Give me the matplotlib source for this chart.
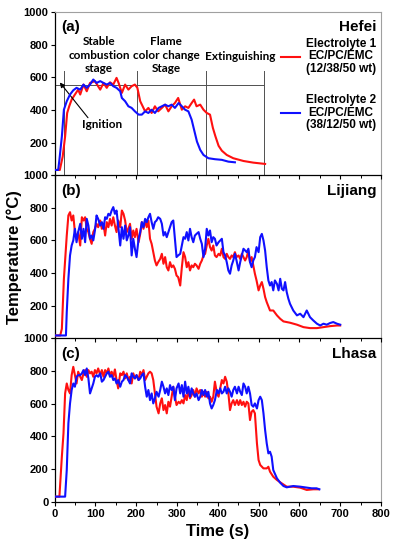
import matplotlib
matplotlib.use("Agg")
import matplotlib.pyplot as plt
from matplotlib.ticker import MultipleLocator

# ---------------- data ----------------
# Panel (a) Hefei
a_red_t = [0, 13, 20, 26, 31, 36, 42, 50, 58, 63, 71, 79, 87, 99, 112, 120, 128, 136, 144, 152, 157, 165,
           173, 181, 189, 197, 203, 210, 216, 222, 230, 238, 246, 254, 263, 271, 279, 287, 295, 303, 312,
           320, 328, 336, 342, 348, 357, 365, 373, 381, 388, 394, 402, 410, 422, 438, 463, 487, 516]
a_red_v = [32, 32, 114, 237, 381, 422, 463, 494, 524, 494, 555, 514, 565, 576, 524, 565, 535, 569, 555, 596,
           565, 504, 555, 524, 545, 555, 535, 453, 422, 391, 412, 381, 422, 391, 412, 432, 391, 422, 442, 473,
           401, 422, 412, 442, 463, 422, 432, 401, 381, 371, 290, 240, 180, 150, 124, 104, 87, 77, 69]
a_blue_t = [0, 9, 12, 18, 23, 30, 38, 46, 54, 63, 71, 79, 87, 95, 103, 112, 120, 128, 136, 144, 152, 161,
            165, 173, 181, 189, 197, 206, 214, 222, 230, 238, 246, 255, 263, 271, 279, 287, 295, 304, 312,
            320, 328, 336, 342, 349, 357, 365, 377, 393, 410, 426, 442]
a_blue_v = [32, 32, 94, 237, 401, 453, 494, 520, 535, 524, 555, 535, 555, 586, 565, 576, 565, 555, 565, 545,
            535, 514, 473, 453, 422, 412, 391, 371, 371, 391, 381, 401, 381, 412, 422, 432, 422, 432, 412, 442,
            422, 401, 391, 340, 278, 206, 155, 124, 104, 98, 94, 83, 79]

# Panel (b) Lijiang
b_red_t = [0, 14, 18, 23, 30, 34, 38, 42, 46, 50, 54, 58, 63, 67, 71, 75, 79, 83, 87, 91, 95, 99, 103, 107,
           112, 116, 120, 124, 128, 132, 136, 140, 144, 148, 152, 156, 161, 165, 169, 173, 177, 181, 185, 189,
           193, 197, 201, 206, 210, 214, 218, 222, 226, 230, 234, 238, 242, 246, 250, 254, 259, 263, 267, 271,
           275, 279, 283, 287, 291, 295, 299, 303, 308, 312, 316, 320, 324, 328, 332, 336, 340, 344, 348, 353,
           357, 361, 365, 369, 373, 377, 381, 385, 389, 393, 397, 402, 406, 410, 414, 418, 422, 426, 430, 434,
           438, 442, 446, 451, 455, 459, 463, 467, 471, 475, 479, 483, 487, 491, 495, 500, 504, 508, 512, 516,
           520, 528, 536, 545, 553, 561, 577, 594, 610, 626, 643, 659, 675, 692, 700]
b_red_v = [18, 18, 59, 365, 630, 753, 773, 722, 753, 651, 610, 651, 569, 742, 722, 742, 671, 651, 610, 579,
           651, 671, 702, 681, 722, 671, 702, 630, 712, 681, 732, 691, 742, 691, 651, 722, 681, 783, 763, 722,
           651, 671, 702, 610, 661, 620, 671, 589, 640, 712, 671, 722, 681, 722, 610, 579, 528, 477, 447, 467,
           487, 518, 457, 498, 436, 416, 467, 436, 447, 426, 385, 375, 324, 436, 528, 498, 436, 467, 416, 447,
           436, 457, 447, 426, 457, 477, 508, 518, 569, 610, 559, 538, 569, 508, 498, 518, 508, 549, 498, 487,
           518, 498, 487, 508, 498, 528, 498, 508, 487, 518, 498, 477, 498, 538, 467, 498, 447, 396, 355, 294,
           324, 345, 304, 253, 222, 171, 171, 141, 120, 104, 96, 84, 69, 63, 63, 69, 75, 79, 79]
b_blue_t = [0, 28, 30, 34, 38, 42, 46, 50, 54, 58, 63, 67, 71, 75, 79, 83, 87, 91, 95, 99, 103, 107, 112,
            116, 120, 124, 128, 132, 136, 140, 144, 148, 152, 156, 161, 165, 169, 173, 177, 181, 185, 189, 193,
            197, 201, 206, 210, 214, 218, 222, 226, 230, 234, 238, 242, 246, 250, 254, 259, 263, 267, 271, 275,
            279, 283, 287, 291, 295, 299, 303, 308, 312, 316, 320, 324, 328, 332, 336, 340, 344, 348, 353, 357,
            361, 365, 369, 373, 377, 381, 385, 389, 393, 397, 402, 406, 410, 414, 418, 422, 426, 430, 434, 438,
            442, 446, 451, 455, 459, 463, 467, 471, 475, 479, 483, 487, 491, 495, 500, 504, 508, 512, 516, 520,
            524, 528, 532, 536, 540, 545, 549, 553, 557, 561, 565, 569, 573, 577, 585, 594, 602, 610, 618, 626,
            634, 643, 651, 659, 667, 675, 683, 692, 700]
b_blue_v = [18, 18, 161, 365, 508, 569, 600, 671, 589, 651, 702, 610, 671, 589, 732, 691, 610, 630, 600, 661,
            753, 732, 691, 712, 671, 742, 732, 763, 753, 783, 804, 763, 783, 691, 569, 681, 610, 691, 600, 630,
            681, 508, 610, 549, 498, 610, 651, 712, 681, 732, 712, 742, 763, 712, 671, 712, 722, 742, 732, 702,
            630, 651, 620, 651, 681, 712, 722, 610, 498, 508, 518, 569, 620, 610, 651, 600, 671, 620, 589, 630,
            640, 651, 610, 579, 498, 549, 671, 630, 661, 589, 620, 610, 569, 589, 600, 610, 528, 508, 467, 416,
            396, 447, 477, 518, 477, 416, 467, 508, 549, 538, 528, 549, 467, 436, 477, 498, 559, 528, 620, 640,
            600, 538, 436, 355, 324, 345, 294, 355, 334, 294, 365, 304, 294, 345, 283, 243, 212, 171, 141, 151,
            130, 171, 130, 110, 90, 79, 90, 84, 94, 100, 90, 84]

# Panel (c) Lhasa
c_red_t = [0, 12, 14, 18, 22, 26, 30, 34, 38, 42, 46, 50, 54, 58, 63, 67, 71, 75, 79, 83, 87, 91, 95, 99,
           103, 107, 112, 116, 120, 124, 128, 132, 136, 140, 144, 148, 152, 156, 161, 165, 169, 173, 177, 181,
           185, 189, 193, 197, 201, 206, 210, 214, 218, 222, 226, 230, 234, 238, 242, 246, 250, 255, 259, 263,
           267, 271, 275, 279, 283, 287, 291, 295, 299, 304, 308, 312, 316, 320, 324, 328, 332, 336, 340, 344,
           348, 353, 357, 361, 365, 369, 373, 377, 381, 385, 389, 393, 398, 402, 406, 410, 414, 418, 422, 426,
           430, 434, 438, 442, 447, 451, 455, 459, 463, 467, 471, 475, 479, 483, 487, 491, 496, 500, 504, 508,
           512, 520, 524, 528, 536, 545, 557, 569, 585, 602, 618, 634, 647]
c_red_v = [31, 31, 112, 276, 418, 663, 724, 684, 663, 775, 826, 775, 724, 796, 765, 745, 786, 806, 765, 806,
           786, 796, 765, 806, 786, 816, 775, 806, 765, 806, 786, 816, 775, 796, 765, 810, 745, 694, 786, 775,
           796, 755, 786, 745, 765, 724, 786, 755, 775, 745, 796, 775, 806, 745, 765, 786, 796, 786, 745, 663,
           582, 541, 602, 633, 561, 592, 541, 612, 582, 643, 704, 643, 592, 612, 602, 622, 602, 653, 622, 684,
           633, 653, 684, 643, 694, 663, 684, 643, 673, 643, 673, 633, 643, 612, 643, 735, 663, 643, 694, 745,
           724, 765, 735, 663, 561, 602, 622, 592, 622, 592, 622, 592, 612, 582, 612, 602, 500, 551, 561, 541,
           357, 255, 225, 214, 204, 204, 214, 184, 153, 133, 112, 92, 92, 86, 72, 76, 76]
c_blue_t = [0, 26, 30, 34, 38, 42, 46, 50, 54, 58, 63, 67, 71, 75, 79, 83, 87, 91, 95, 99, 103, 107, 112,
            116, 120, 124, 128, 132, 136, 140, 144, 148, 152, 156, 161, 165, 169, 173, 177, 181, 185, 189, 193,
            197, 201, 206, 210, 214, 218, 222, 226, 230, 234, 238, 242, 246, 250, 255, 259, 263, 267, 271, 275,
            279, 283, 287, 291, 295, 299, 304, 308, 312, 316, 320, 324, 328, 332, 336, 340, 344, 348, 353, 357,
            361, 365, 369, 373, 377, 381, 385, 389, 393, 398, 402, 406, 410, 414, 418, 422, 426, 430, 434, 438,
            442, 447, 451, 455, 459, 463, 467, 471, 475, 479, 483, 487, 491, 496, 500, 504, 508, 512, 516, 520,
            524, 528, 532, 536, 545, 553, 561, 569, 585, 602, 618, 630, 642, 649]
c_blue_v = [31, 31, 194, 480, 602, 684, 724, 704, 765, 775, 775, 786, 806, 775, 816, 755, 663, 694, 724, 765,
            775, 765, 786, 735, 745, 765, 786, 796, 765, 775, 745, 755, 724, 745, 704, 735, 745, 775, 765, 745,
            724, 786, 765, 755, 775, 745, 755, 775, 786, 704, 643, 684, 622, 663, 602, 633, 673, 643, 684, 735,
            704, 663, 694, 653, 714, 684, 704, 622, 694, 724, 663, 714, 643, 735, 663, 704, 643, 694, 663, 643,
            663, 622, 643, 684, 653, 684, 643, 673, 602, 571, 592, 622, 684, 663, 694, 663, 673, 704, 663, 694,
            673, 643, 684, 704, 663, 704, 673, 653, 724, 704, 663, 704, 663, 592, 582, 602, 571, 622, 643, 622,
            541, 439, 357, 296, 306, 276, 194, 143, 116, 96, 88, 96, 92, 86, 82, 82, 76]

series_labels = ["Electrolyte 1\nEC/PC/EMC\n(12/38/50 wt)", "Electrolyte 2\nEC/PC/EMC\n(38/12/50 wt)"]
panel_tags = ["(a)", "(b)", "(c)"]
panel_sites = ["Hefei", "Lijiang", "Lhasa"]
x_ticks = [0, 100, 200, 300, 400, 500, 600, 700, 800]
y_ticks = [0, 200, 400, 600, 800, 1000]
stage_bounds = [23, 201, 370, 513]
stage_level = 550
stage_top = 640
stage_names = ["Stable\ncombustion\nstage", "Flame\ncolor change\nStage", "Extinguishing"]
stage_text_pos = [(109, 735), (274, 735), (455, 729)]
ignition_text = "Ignition"

# ---------------- figure ----------------
RED = "#ff1010"
BLUE = "#1010ff"
TICKFONT = "Liberation Sans"
ANNFONT = "Lato"

fig = plt.figure(figsize=(3.95, 5.5), dpi=100)
left, width = 0.138, 0.8266
h = 163.3 / 550
bottoms = [1 - 175.2 / 550, 1 - 338.4 / 550, 1 - 501.7 / 550]
data = [(a_red_t, a_red_v, a_blue_t, a_blue_v),
        (b_red_t, b_red_v, b_blue_t, b_blue_v),
        (c_red_t, c_red_v, c_blue_t, c_blue_v)]

axes = []
for i in range(3):
    ax = fig.add_axes([left, bottoms[i], width, h], zorder=3 - i)
    ax.patch.set_alpha(0)
    rt, rv, bt, bv = data[i]
    lr, = ax.plot(rt, rv, color=RED, lw=1.5, label=series_labels[0], zorder=3)
    lb, = ax.plot(bt, bv, color=BLUE, lw=1.5, label=series_labels[1], zorder=4)
    ax.set_xlim(0, 800)
    ax.set_ylim(0, 1000)
    ax.set_xticks(x_ticks)
    ax.xaxis.set_minor_locator(MultipleLocator(50))
    ax.set_yticks(y_ticks)
    ylabels = [str(v) for v in y_ticks]
    if i < 2:
        ylabels[0] = ""
        ax.set_xticklabels([])
    ax.set_yticklabels(ylabels)
    ax.tick_params(axis="both", which="major", direction="out", length=3, width=0.8,
                   labelsize=8, pad=2)
    ax.tick_params(axis="x", which="minor", direction="out", length=2, width=0.7)
    ax.tick_params(axis="y", which="major", pad=1.5)
    for lab in ax.get_xticklabels() + ax.get_yticklabels():
        lab.set_fontfamily(TICKFONT)
        lab.set_fontweight("bold")
    ax.spines["left"].set_color("black")
    ax.spines["bottom"].set_color("black")
    ax.spines["left"].set_linewidth(0.9)
    ax.spines["bottom"].set_linewidth(0.9)
    ax.spines["right"].set_color("#a0a0a0")
    ax.spines["top"].set_color("#a0a0a0")
    ax.spines["right"].set_linewidth(0.8)
    ax.spines["top"].set_linewidth(0.8)
    if i > 0:
        ax.spines["top"].set_visible(False)
    ax.text(0.02, 0.905, panel_tags[i], transform=ax.transAxes, ha="left", va="center",
            fontsize=11, fontweight="bold", family=TICKFONT)
    ax.text(0.985, 0.905, panel_sites[i], transform=ax.transAxes, ha="right", va="center",
            fontsize=11, fontweight="bold", family=TICKFONT)
    axes.append(ax)
    if i == 0:
        handles = [lr, lb]

ax = axes[0]
# stage boundary lines
for xb in stage_bounds:
    ax.plot([xb, xb], [0, stage_top], color="#505050", lw=0.7, zorder=2)
ax.plot([0, stage_bounds[-1]], [stage_level, stage_level], color="#505050", lw=0.7, zorder=2)
for name, (tx, ty) in zip(stage_names, stage_text_pos):
    ax.text(tx, ty, name, ha="center", va="center", fontsize=8.5, fontweight="bold",
            family=ANNFONT, linespacing=1.25)
ax.annotate("", xy=(13, 568), xytext=(82, 352),
            arrowprops=dict(arrowstyle="-|>", color="black", lw=0.8, mutation_scale=7,
                            shrinkA=0, shrinkB=0))
ax.text(116, 309, ignition_text, ha="center", va="center", fontsize=8.5, fontweight="bold",
        family=ANNFONT)

leg = ax.legend(handles=handles, loc="upper right", bbox_to_anchor=(0.985, 0.84),
                frameon=False, prop=dict(family=TICKFONT, weight="bold", size=8.5),
                handlelength=1.6, handletextpad=0.5, labelspacing=1.65, borderpad=0,
                borderaxespad=0)
for t in leg.get_texts():
    t.set_multialignment("center")
    t.set_linespacing(1.05)

fig.text(0.036, bottoms[1] + h / 2, "Temperature (°C)", rotation=90, ha="center", va="center",
         fontsize=12, fontweight="bold", family=TICKFONT)
fig.text(left + width * 0.5, 0.033, "Time (s)", ha="center", va="center",
         fontsize=12, fontweight="bold", family=TICKFONT)

fig.savefig("out.png", dpi=100)
